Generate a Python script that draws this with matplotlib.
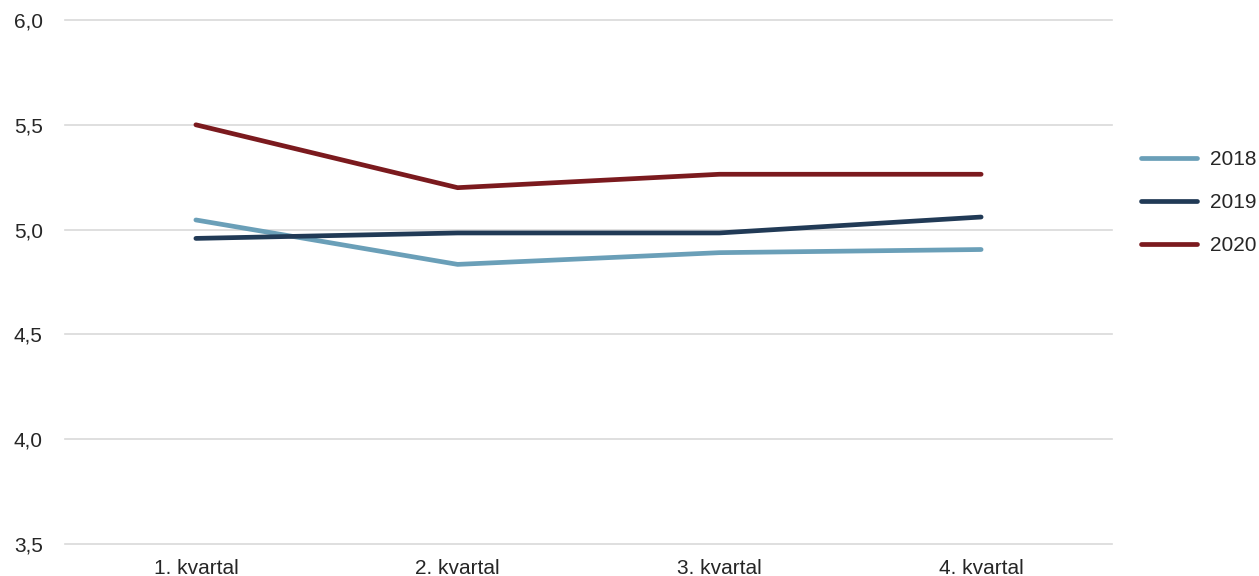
import matplotlib.pyplot as plt
import matplotlib.ticker as mticker

plt.rcParams['font.family'] = ['Liberation Sans', 'DejaVu Sans']

quarters = ['1. kvartal', '2. kvartal', '3. kvartal', '4. kvartal']
years = ['2018', '2019', '2020']
v2018 = [5.046, 4.834, 4.89, 4.905]
v2019 = [4.958, 4.984, 4.984, 5.06]
v2020 = [5.50, 5.20, 5.264, 5.264]
colors = ['#6a9fb8', '#213a56', '#7b1a1e']

fig = plt.figure(figsize=(12.59, 5.76), dpi=100)
ax = fig.add_axes([65 / 1259, 32 / 576, (1112 - 65) / 1259, (544 - 20) / 576])

for name, vals, c in zip(years, [v2018, v2019, v2020], colors):
    ax.plot(range(len(quarters)), vals, color=c, lw=3.4, solid_capstyle='round', label=name)

ax.set_xlim(-0.5, 3.5)
ax.set_ylim(3.5, 6.0)
ax.set_yticks([3.5, 4.0, 4.5, 5.0, 5.5, 6.0])
ax.yaxis.set_major_formatter(mticker.FuncFormatter(lambda v, p: f'{v:.1f}'.replace('.', ',')))
ax.set_xticks(range(len(quarters)))
ax.set_xticklabels(quarters)
ax.grid(axis='y', color='#d9d9d9', lw=1.2)
for gl in ax.get_ygridlines():
    gl.set_clip_on(False)
ax.set_axisbelow(True)
for s in ax.spines.values():
    s.set_visible(False)
ax.tick_params(length=0, labelsize=15, colors='#262626')
ax.tick_params(axis='x', pad=11)
ax.tick_params(axis='y', pad=16)

ax.legend(loc='center left', bbox_to_anchor=(1.0277, 0.651), frameon=False,
          fontsize=15, handlelength=2.7, labelspacing=1.15, handletextpad=0.6,
          borderpad=0, borderaxespad=0, labelcolor='#262626')

fig.savefig('out.png', dpi=100)
